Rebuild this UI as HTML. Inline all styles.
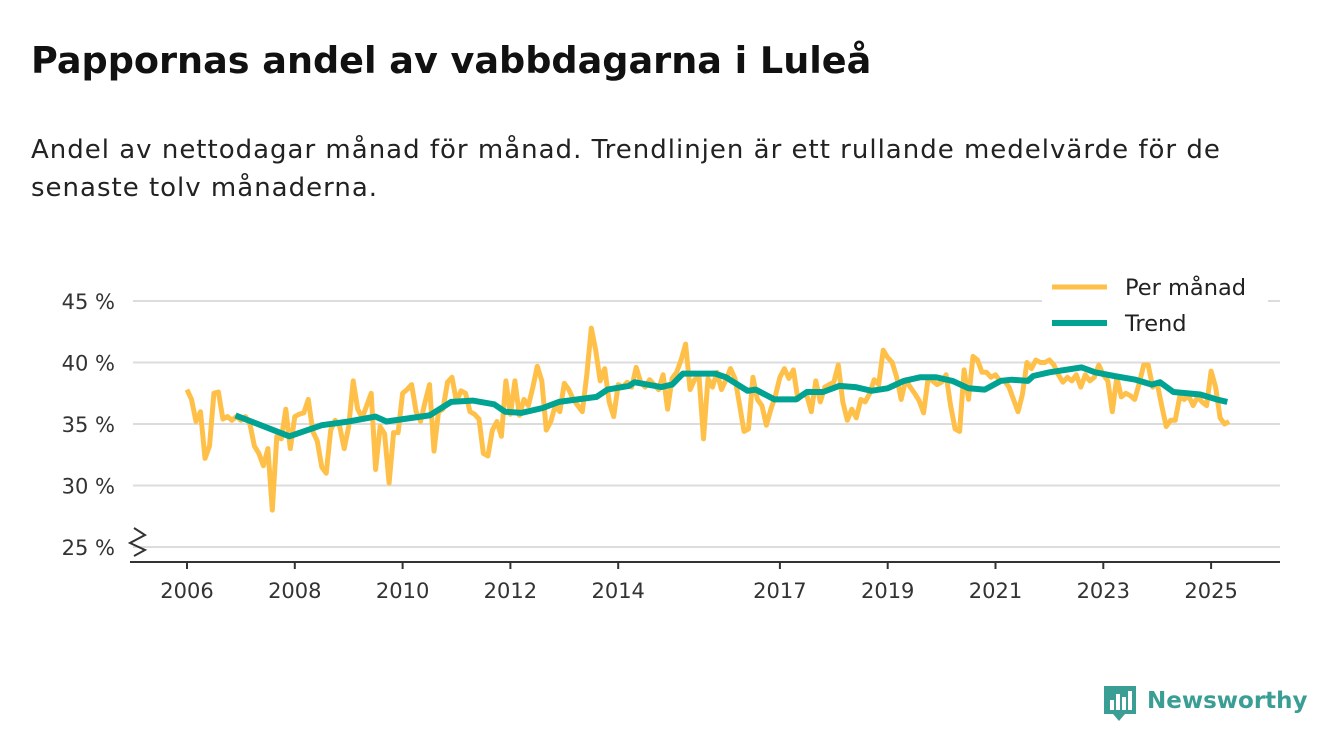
<!DOCTYPE html>
<html><head><meta charset="utf-8">
<style>
body{margin:0;background:#fff;width:1340px;height:753px;overflow:hidden;font-family:"DejaVu Sans","Liberation Sans",sans-serif;}
#title{position:absolute;left:31px;top:39px;font-size:36.6px;font-weight:bold;color:#111;}
#sub{position:absolute;left:31px;top:131px;font-size:26px;letter-spacing:1px;line-height:38px;color:#222;width:1250px}
svg{position:absolute;left:0;top:0;font-family:"DejaVu Sans","Liberation Sans",sans-serif}
</style></head><body>
<div id="title">Pappornas andel av vabbdagarna i Luleå</div>
<div id="sub">Andel av nettodagar månad för månad. Trendlinjen är ett rullande medelvärde för de senaste tolv månaderna.</div>
<svg id="chart" width="1340" height="753"></svg>
<script>
const yTicks=[25,30,35,40,45];
const yTickLabels=["25 %","30 %","35 %","40 %","45 %"];
const xTicks=[2006,2008,2010,2012,2014,2017,2019,2021,2023,2025];
const startYear=2006;
const monthly=[
37.8,37.0,35.2,36.0,32.2,33.2,37.5,37.6,35.4,35.6,35.3,35.6,
35.3,35.6,35.0,33.2,32.6,31.6,33.0,28.0,34.0,33.8,36.2,33.0,
35.6,35.8,35.9,37.0,34.4,33.6,31.5,31.0,34.5,35.3,34.8,33.0,
34.8,38.5,36.2,35.5,36.5,37.5,31.3,34.8,34.2,30.2,34.3,34.3,
37.5,37.8,38.2,36.0,35.2,36.8,38.2,32.8,36.0,36.2,38.4,38.8,
36.8,37.7,37.5,36.0,35.8,35.4,32.6,32.4,34.5,35.2,34.0,38.5,
35.8,38.5,35.7,37.0,36.5,38.0,39.7,38.5,34.5,35.2,36.5,36.0,
38.3,37.8,37.0,36.5,36.0,39.0,42.8,41.0,38.5,39.5,36.8,35.6,
38.2,38.0,38.4,38.0,39.6,38.4,38.0,38.6,38.2,37.8,39.0,36.2,
38.7,39.2,40.2,41.5,37.8,38.6,38.9,33.8,38.7,38.0,39.2,37.8,
38.6,39.5,38.7,36.6,34.4,34.6,38.8,37.0,36.5,34.9,36.2,37.3,
38.8,39.5,38.7,39.4,37.0,37.4,37.3,36.0,38.5,36.8,38.0,38.2,
38.4,39.8,36.8,35.3,36.2,35.5,37.0,36.8,37.5,38.6,38.2,41.0,
40.4,40.0,38.8,37.0,38.6,38.0,37.5,36.9,35.9,38.7,38.5,38.2,
38.4,39.0,36.5,34.6,34.4,39.4,37.0,40.5,40.2,39.2,39.2,38.8,
39.0,38.5,38.5,38.0,37.0,36.0,37.4,40.0,39.5,40.2,40.0,40.0,
40.2,39.8,39.0,38.4,38.8,38.5,39.0,38.0,39.0,38.5,38.8,39.8,
39.0,38.5,36.0,38.8,37.2,37.5,37.3,37.0,38.3,39.8,39.8,38.0,
38.3,36.5,34.8,35.3,35.3,37.2,37.0,37.3,36.5,37.2,36.8,36.5,
39.3,38.0,35.5,35.0,35.2];
const trendDates=[2006.9,2007.9,2008.5,2009.0,2009.5,2009.7,2010.5,2010.9,2011.3,2011.7,2011.9,2012.2,2012.6,2012.9,2013.6,2013.8,2014.2,2014.3,2014.8,2015.0,2015.2,2015.8,2016.0,2016.4,2016.55,2016.9,2017.3,2017.5,2017.8,2018.1,2018.4,2018.7,2019.0,2019.3,2019.6,2019.9,2020.2,2020.5,2020.8,2021.1,2021.3,2021.6,2021.7,2022.0,2022.6,2022.85,2023.2,2023.6,2023.9,2024.05,2024.3,2024.8,2025.1,2025.3];
const trendValues=[35.7,34.0,34.9,35.2,35.6,35.2,35.7,36.8,36.9,36.6,36.0,35.9,36.3,36.8,37.2,37.8,38.1,38.4,38.0,38.2,39.1,39.1,38.8,37.7,37.8,37.0,37.0,37.6,37.6,38.1,38.0,37.7,37.9,38.5,38.8,38.8,38.5,37.9,37.8,38.5,38.6,38.5,38.9,39.2,39.6,39.2,38.9,38.6,38.2,38.4,37.6,37.4,37.0,36.8];

const svg=document.getElementById('chart');const NS='http://www.w3.org/2000/svg';
const X=t=>187+(t-2006)*53.9;
const Y=v=>301+(45-v)*12.3;
function mk(tag,a,p){const e=document.createElementNS(NS,tag);for(const k in a)e.setAttribute(k,a[k]);(p||svg).appendChild(e);return e;}
yTicks.forEach((v,i)=>{
 const g=mk('line',{x1:133,x2:1280,y1:Y(v),y2:Y(v),stroke:'#dcdcdc','stroke-width':2});
 
 
 const t=mk('text',{x:115,y:Y(v)+8,'text-anchor':'end','font-size':21,fill:'#333'});
 t.textContent=yTickLabels[i];
 
 
});
const ax=mk('line',{x1:130,x2:1280,y1:562,y2:562,stroke:'#333','stroke-width':2});


const br=mk('path',{d:'M134,528 L145,535 L130,543 L145,550 L134,556',fill:'none',stroke:'#333','stroke-width':2});


xTicks.forEach(yr=>{
 const l=mk('line',{x1:X(yr),x2:X(yr),y1:562,y2:569,stroke:'#333','stroke-width':2});
 
 
 const t=mk('text',{x:X(yr),y:598,'text-anchor':'middle','font-size':21,fill:'#333'});
 t.textContent=yr;
 
 
});
const mp=monthly.map((v,i)=>X(startYear+i/12).toFixed(1)+','+Y(v).toFixed(1)).join(' ');
const m=mk('polyline',{points:mp,fill:'none',stroke:'#ffc04a','stroke-width':5,'stroke-linejoin':'round'});


const tp=trendDates.map((d,i)=>X(d).toFixed(1)+','+Y(trendValues[i]).toFixed(1)).join(' ');
const tr=mk('polyline',{points:tp,fill:'none',stroke:'#00a392','stroke-width':6,'stroke-linejoin':'round'});


const lg=mk('g',{});


mk('rect',{x:1042,y:268,width:226,height:74,fill:'#fff'},lg);
mk('line',{x1:1052,x2:1107,y1:287,y2:287,stroke:'#ffc04a','stroke-width':5},lg);
mk('line',{x1:1052,x2:1107,y1:323,y2:323,stroke:'#00a392','stroke-width':6},lg);
const l1=mk('text',{x:1125,y:295,'font-size':22.5,fill:'#222'},lg);l1.textContent='Per månad';


const l2=mk('text',{x:1125,y:331,'font-size':22.5,fill:'#222'},lg);l2.textContent='Trend';


const logo=mk('g',{});


mk('path',{d:'M1104,686 h32 v28 h-11 l-6,7 l-6,-7 h-9 z',fill:'#3a9e94'},logo);
[[1110,700,4,10],[1116,694,4,16],[1122,697,4,13],[1128,691,4,19]].forEach(r=>mk('rect',{x:r[0],y:r[1],width:r[2],height:r[3],fill:'#fff'},logo));
const lt=mk('text',{x:1147,y:708,'font-size':23,'font-weight':'bold',fill:'#3a9e94'},logo);lt.textContent='Newsworthy';
</script>
</body></html>
